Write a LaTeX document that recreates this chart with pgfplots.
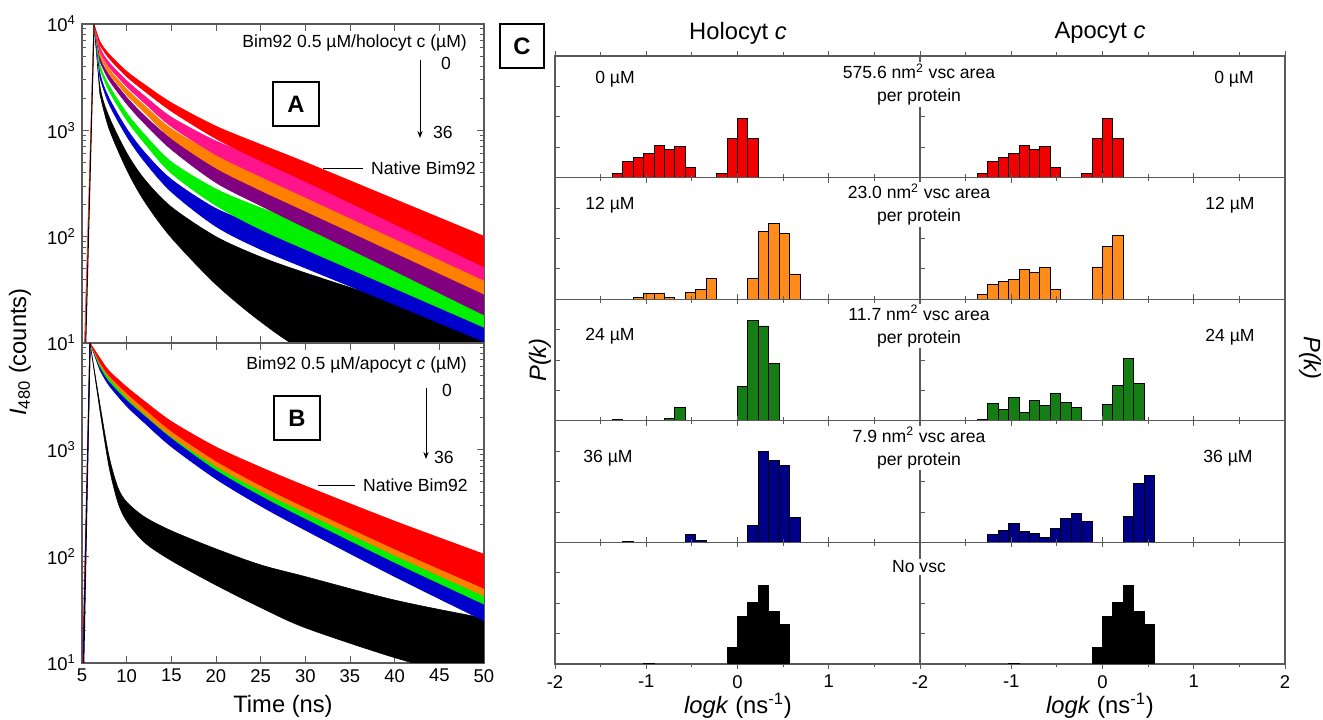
\documentclass[border=0pt]{standalone}
\usepackage{fontspec}
\setmainfont{Liberation Sans}
\usepackage{pgfplots}
\pgfplotsset{compat=1.18}
\usetikzlibrary{arrows.meta}

\definecolor{cred}{RGB}{255,0,0}
\definecolor{cpink}{RGB}{255,20,140}
\definecolor{corange}{RGB}{255,128,0}
\definecolor{cpurple}{RGB}{128,0,128}
\definecolor{clime}{RGB}{0,240,0}
\definecolor{cblue}{RGB}{0,0,205}
\definecolor{hred}{RGB}{240,0,0}
\definecolor{horange}{RGB}{255,140,26}
\definecolor{hgreen}{RGB}{20,125,20}
\definecolor{hblue}{RGB}{0,0,135}
\definecolor{axgray}{RGB}{90,90,90}

\newcommand\fa{\fontsize{10}{13}\selectfont}
\newcommand\fb{\fontsize{13.5}{16}\selectfont}

\pgfplotsset{
  decay/.style={scale only axis, width=8.04cm,
    xmin=5, xmax=50, ymin=1, ymax=4,
    xtick={5,10,...,50},
    ytick={1,2,3,4},
    minor ytick={1.301,1.477,1.602,1.699,1.778,1.845,1.903,1.954,
                 2.301,2.477,2.602,2.699,2.778,2.845,2.903,2.954,
                 3.301,3.477,3.602,3.699,3.778,3.845,3.903,3.954},
    tick align=inside,
    axis line style={axgray, line width=0.6pt},
    tick style={axgray, line width=0.5pt},
    major tick length=0.14cm, minor tick length=0.08cm,
    ticklabel style={font=\fontsize{10.5}{12}\selectfont},
    /pgf/number format/assume math mode=true},
  band/.style={fill=#1, draw=#1, line width=0.3pt, smooth, tension=0.5},
  hist/.style={scale only axis, width=7.3cm, height=2.432cm,
    xmin=-2, xmax=2, ymin=0, ymax=4,
    xtick={-2,-1,0,1,2}, minor x tick num=1, xticklabels={},
    ytick={1,2,3}, yticklabels={}, ytick pos=left,
    tick align=inside,
    axis line style={axgray, line width=0.6pt},
    tick style={axgray, line width=0.5pt},
    major tick length=0.1cm, minor tick length=0.07cm,
    ticklabel style={font=\fontsize{10.5}{12}\selectfont},
    ybar, bar width=0.1143, bar shift=0pt},
  bars/.style={fill=#1, draw=black, line width=0.5pt},
}

\begin{document}
\begin{tikzpicture}[x=1cm,y=1cm]
\useasboundingbox (0,0) rectangle (26.46,14.4);

% ---------- panel A (y in log10 counts; upper edge of the noise band, then lower edge back) ----------
\begin{axis}[decay, at={(1.64cm,7.54cm)}, anchor=south west, height=6.38cm,
  xticklabels={}, yticklabels={10\textsuperscript{1},10\textsuperscript{2},10\textsuperscript{3},10\textsuperscript{4}}]
\addplot[band=black] coordinates {
  (6.35,4)(7,3.42)(8,3.135)(10,2.79)(12,2.54)(15,2.28)(20,2.00)(25,1.81)(30,1.66)(40,1.39)(50,1.15)(55,1.03)
  (55,0.12)(50,0.25)(40,0.52)(30,0.92)(25,1.20)(20,1.55)(15,1.99)(12,2.33)(10,2.63)(8,3.02)(7,3.34)} -- cycle;
\addplot[band=cblue] coordinates {
  (6.35,4)(7,3.546)(8,3.309)(10,3.016)(12,2.794)(15,2.539)(20,2.265)(25,2.10)(30,1.965)(40,1.699)(50,1.428)(55,1.286)
  (55,0.844)(50,1.012)(40,1.361)(30,1.705)(25,1.88)(20,2.095)(15,2.421)(12,2.706)(10,2.944)(8,3.251)(7,3.494)} -- cycle;
\addplot[band=clime] coordinates {
  (6.35,4)(7,3.624)(8,3.426)(10,3.164)(12,2.961)(15,2.704)(20,2.448)(25,2.272)(30,2.12)(40,1.826)(50,1.532)(55,1.379)
  (55,0.971)(50,1.148)(40,1.514)(30,1.88)(25,2.068)(20,2.292)(15,2.596)(12,2.879)(10,3.096)(8,3.374)(7,3.576)} -- cycle;
\addplot[band=cpurple] coordinates {
  (6.35,4)(7,3.692)(8,3.524)(10,3.311)(12,3.137)(15,2.92)(20,2.652)(25,2.479)(30,2.305)(40,1.963)(50,1.616)(55,1.437)
  (55,1.063)(50,1.264)(40,1.677)(30,2.085)(25,2.291)(20,2.508)(15,2.82)(12,3.063)(10,3.249)(8,3.476)(7,3.648)} -- cycle;
\addplot[band=corange] coordinates {
  (6.35,4)(7,3.74)(8,3.582)(10,3.388)(12,3.234)(15,3.015)(20,2.775)(25,2.605)(30,2.44)(40,2.11)(50,1.78)(55,1.61)
  (55,1.27)(50,1.46)(40,1.85)(30,2.24)(25,2.435)(20,2.645)(15,2.925)(12,3.166)(10,3.332)(8,3.538)(7,3.70)} -- cycle;
\addplot[band=cpink] coordinates {
  (6.35,4)(7,3.78)(8,3.642)(10,3.468)(12,3.324)(15,3.125)(20,2.90)(25,2.735)(30,2.57)(40,2.24)(50,1.91)(55,1.74)
  (55,1.40)(50,1.59)(40,1.98)(30,2.37)(25,2.565)(20,2.77)(15,3.035)(12,3.256)(10,3.412)(8,3.598)(7,3.74)} -- cycle;
\addplot[band=cred] coordinates {
  (6.35,4)(7,3.838)(8,3.72)(10,3.555)(12,3.431)(15,3.26)(20,3.039)(25,2.867)(30,2.70)(40,2.352)(50,2.004)(55,1.823)
  (55,1.517)(50,1.716)(40,2.118)(30,2.52)(25,2.713)(20,2.921)(15,3.18)(12,3.369)(10,3.505)(8,3.68)(7,3.802)} -- cycle;
\addplot[cpink, line width=0.6pt] coordinates {(5.30,1)(6.35,4)};
\addplot[corange, line width=0.6pt] coordinates {(5.36,1)(6.35,4)};
\addplot[black, line width=0.6pt] coordinates {(5.42,1)(6.35,4)};
\end{axis}

% ---------- panel B ----------
\begin{axis}[decay, at={(1.64cm,1.14cm)}, anchor=south west, height=6.40cm,
  yticklabels={10\textsuperscript{1},10\textsuperscript{2},10\textsuperscript{3},{}}]
\addplot[band=black] coordinates {
  (5.9,4)(7,3.43)(8,2.95)(9,2.65)(10,2.51)(12,2.37)(15,2.24)(20,2.07)(25,1.92)(30,1.81)(40,1.59)(50,1.42)(55,1.34)
  (55,0.72)(50,0.82)(40,1.05)(30,1.33)(25,1.52)(20,1.73)(15,1.96)(12,2.13)(10,2.33)(9,2.51)(8,2.85)(7,3.37)} -- cycle;
\addplot[band=cblue] coordinates {
  (5.9,4)(7,3.793)(8,3.655)(10,3.472)(12,3.329)(15,3.132)(20,2.875)(25,2.668)(30,2.475)(40,2.11)(50,1.764)(55,1.586)
  (55,1.194)(50,1.396)(40,1.81)(30,2.245)(25,2.472)(20,2.725)(15,3.028)(12,3.251)(10,3.408)(8,3.605)(7,3.747)} -- cycle;
\addplot[band=clime] coordinates {
  (5.9,4)(7,3.821)(8,3.693)(10,3.529)(12,3.396)(15,3.207)(20,2.948)(25,2.749)(30,2.565)(40,2.217)(50,1.888)(55,1.719)
  (55,1.361)(50,1.552)(40,1.943)(30,2.355)(25,2.571)(20,2.812)(15,3.113)(12,3.324)(10,3.471)(8,3.647)(7,3.779)} -- cycle;
\addplot[band=corange] coordinates {
  (5.9,4)(7,3.84)(8,3.722)(10,3.548)(12,3.404)(15,3.215)(20,2.975)(25,2.785)(30,2.61)(40,2.27)(50,1.95)(55,1.79)
  (55,1.45)(50,1.63)(40,2.01)(30,2.41)(25,2.615)(20,2.845)(15,3.125)(12,3.336)(10,3.492)(8,3.678)(7,3.80)} -- cycle;
\addplot[band=cred] coordinates {
  (5.9,4)(7,3.86)(8,3.742)(10,3.588)(12,3.454)(15,3.265)(20,3.025)(25,2.835)(30,2.66)(40,2.33)(50,2.02)(55,1.86)
  (55,1.52)(50,1.70)(40,2.07)(30,2.46)(25,2.665)(20,2.895)(15,3.175)(12,3.386)(10,3.532)(8,3.698)(7,3.82)} -- cycle;
\addplot[cred, line width=0.6pt] coordinates {(5.08,1)(5.9,4)};
\addplot[cblue, line width=0.6pt] coordinates {(5.14,1)(5.9,4)};
\addplot[black, line width=0.6pt] coordinates {(5.20,1)(5.9,4)};
\end{axis}

% panel A/B annotations
\node[anchor=east, font=\fa] at (9.46,13.54) {Bim92 0.5 µM/holocyt c (µM)};
\node[font=\fa] at (8.92,13.14) {0};
\draw[-{Stealth[length=4pt,width=3pt]}, line width=0.5pt] (8.40,13.20) -- (8.40,11.64);
\node[anchor=west, font=\fa] at (8.54,11.76) {36};
\draw[line width=0.5pt] (6.46,11.04) -- (7.26,11.04);
\node[anchor=west, font=\fa] at (7.30,11.04) {Native Bim92};
\node[draw, line width=0.8pt, minimum width=0.92cm, minimum height=0.88cm, font=\fb\bfseries] at (5.92,12.32) {A};

\node[anchor=east, font=\fa] at (9.46,7.10) {Bim92 0.5 µM/apocyt \textit{c} (µM)};
\node[font=\fa] at (8.94,6.60) {0};
\draw[-{Stealth[length=4pt,width=3pt]}, line width=0.5pt] (8.52,6.64) -- (8.52,5.22);
\node[anchor=west, font=\fa] at (8.56,5.26) {36};
\draw[line width=0.5pt] (6.36,4.70) -- (7.10,4.70);
\node[anchor=west, font=\fa] at (7.14,4.70) {Native Bim92};
\node[draw, line width=0.8pt, minimum width=0.92cm, minimum height=0.88cm, font=\fb\bfseries] at (5.94,6.04) {B};

\node[rotate=90, font=\fb] at (0.40,7.36) {\textit{I}\textsubscript{480} (counts)};
\node[font=\fb] at (5.66,0.28) {Time (ns)};

% ---------- panel C, Holocyt c ----------
\begin{axis}[hist, at={(11.10cm,10.848cm)}, anchor=south west]
\addplot[bars=hred] coordinates {(-1.3143,0.14)(-1.2,0.54)(-1.0857,0.67)(-0.9714,0.80)(-0.8571,1.07)(-0.7429,0.94)(-0.6286,1.02)(-0.5143,0.33)
  (-0.1714,0.14)(-0.0571,1.29)(0.0571,1.93)(0.1714,1.29)};
\end{axis}
\begin{axis}[hist, at={(11.10cm,8.416cm)}, anchor=south west]
\addplot[bars=horange] coordinates {(-1.0857,0.07)(-0.9714,0.19)(-0.8571,0.19)(-0.7429,0.07)(-0.5143,0.22)(-0.4,0.31)(-0.2857,0.67)
  (0.1714,0.69)(0.2857,2.22)(0.4,2.48)(0.5143,2.16)(0.6286,0.83)};
\end{axis}
\begin{axis}[hist, at={(11.10cm,5.984cm)}, anchor=south west]
\addplot[bars=hgreen] coordinates {(-1.3143,0.05)(-0.7429,0.08)(-0.6286,0.45)
  (0.0571,1.12)(0.1714,3.30)(0.2857,3.12)(0.4,1.90)};
\end{axis}
\begin{axis}[hist, at={(11.10cm,3.552cm)}, anchor=south west]
\addplot[bars=hblue] coordinates {(-1.2,0.03)(-0.5143,0.26)(-0.4,0.07)
  (0.1714,0.57)(0.2857,2.98)(0.4,2.70)(0.5143,2.54)(0.6286,0.81)};
\end{axis}
\begin{axis}[hist, at={(11.10cm,1.12cm)}, anchor=south west,
  xticklabels={-2,-1,0,1,{}}]
\addplot[bars=black] coordinates {(-0.9714,0.02)(-0.0571,0.55)(0.0571,1.55)(0.1714,2.01)(0.2857,2.58)(0.4,1.73)(0.5143,1.30)};
\end{axis}

% ---------- panel C, Apocyt c ----------
\begin{axis}[hist, at={(18.40cm,10.848cm)}, anchor=south west]
\addplot[bars=hred] coordinates {(-1.3143,0.14)(-1.2,0.54)(-1.0857,0.67)(-0.9714,0.80)(-0.8571,1.07)(-0.7429,0.94)(-0.6286,1.02)(-0.5143,0.33)
  (-0.1714,0.14)(-0.0571,1.29)(0.0571,1.93)(0.1714,1.29)};
\end{axis}
\begin{axis}[hist, at={(18.40cm,8.416cm)}, anchor=south west]
\addplot[bars=horange] coordinates {(-1.3143,0.15)(-1.2,0.49)(-1.0857,0.59)(-0.9714,0.64)(-0.8571,0.98)(-0.7429,0.88)(-0.6286,1.03)(-0.5143,0.33)
  (-0.0571,1.06)(0.0571,1.72)(0.1714,2.11)};
\end{axis}
\begin{axis}[hist, at={(18.40cm,5.984cm)}, anchor=south west]
\addplot[bars=hgreen] coordinates {(-1.3143,0.03)(-1.2,0.58)(-1.0857,0.36)(-0.9714,0.77)(-0.8571,0.27)(-0.7429,0.66)(-0.6286,0.49)(-0.5143,0.91)(-0.4,0.61)(-0.2857,0.43)
  (0.0571,0.53)(0.1714,1.17)(0.2857,2.06)(0.4,1.22)};
\end{axis}
\begin{axis}[hist, at={(18.40cm,3.552cm)}, anchor=south west]
\addplot[bars=hblue] coordinates {(-1.2,0.26)(-1.0857,0.40)(-0.9714,0.61)(-0.8571,0.37)(-0.7429,0.29)(-0.6286,0.15)(-0.5143,0.45)(-0.4,0.78)(-0.2857,0.94)(-0.1714,0.70)
  (0.2857,0.84)(0.4,1.94)(0.5143,2.19)};
\end{axis}
\begin{axis}[hist, at={(18.40cm,1.12cm)}, anchor=south west,
  xticklabels={-2,-1,0,1,2}]
\addplot[bars=black] coordinates {(-0.9714,0.02)(-0.0571,0.55)(0.0571,1.55)(0.1714,2.01)(0.2857,2.58)(0.4,1.73)(0.5143,1.30)};
\end{axis}

% panel C texts
\node[draw, line width=0.8pt, minimum width=0.88cm, minimum height=0.88cm, font=\fb\bfseries] at (10.44,13.48) {C};
\node[font=\fb] at (14.76,13.74) {Holocyt \textit{c}};
\node[font=\fb] at (22.00,13.74) {Apocyt \textit{c}};
\node[font=\fa] at (12.30,12.82) {0 µM};
\node[font=\fa] at (12.20,10.30) {12 µM};
\node[font=\fa] at (12.20,7.68) {24 µM};
\node[font=\fa] at (12.16,5.24) {36 µM};
\node[font=\fa] at (24.68,12.82) {0 µM};
\node[font=\fa] at (24.60,10.30) {12 µM};
\node[font=\fa] at (24.60,7.66) {24 µM};
\node[font=\fa] at (24.56,5.24) {36 µM};
\node[font=\fa, fill=white, inner sep=1pt, align=center] at (18.38,12.71) {575.6 nm\textsuperscript{2} vsc area\\per protein};
\node[font=\fa, fill=white, inner sep=1pt, align=center] at (18.38,10.31) {23.0 nm\textsuperscript{2} vsc area\\per protein};
\node[font=\fa, fill=white, inner sep=1pt, align=center] at (18.38,7.88) {11.7 nm\textsuperscript{2} vsc area\\per protein};
\node[font=\fa, fill=white, inner sep=1pt, align=center] at (18.38,5.44) {7.9 nm\textsuperscript{2} vsc area\\per protein};
\node[font=\fa, fill=white, inner sep=1pt] at (18.38,3.06) {No vsc};
\node[rotate=90, font=\fb] at (10.80,7.20) {\textit{P(k)}};
\node[rotate=-90, font=\fb] at (26.20,7.24) {\textit{P(k)}};
\node[font=\fb] at (14.76,0.28) {\textit{logk} (ns\textsuperscript{-1})};
\node[font=\fb] at (22.00,0.28) {\textit{logk} (ns\textsuperscript{-1})};
\end{tikzpicture}
\end{document}
